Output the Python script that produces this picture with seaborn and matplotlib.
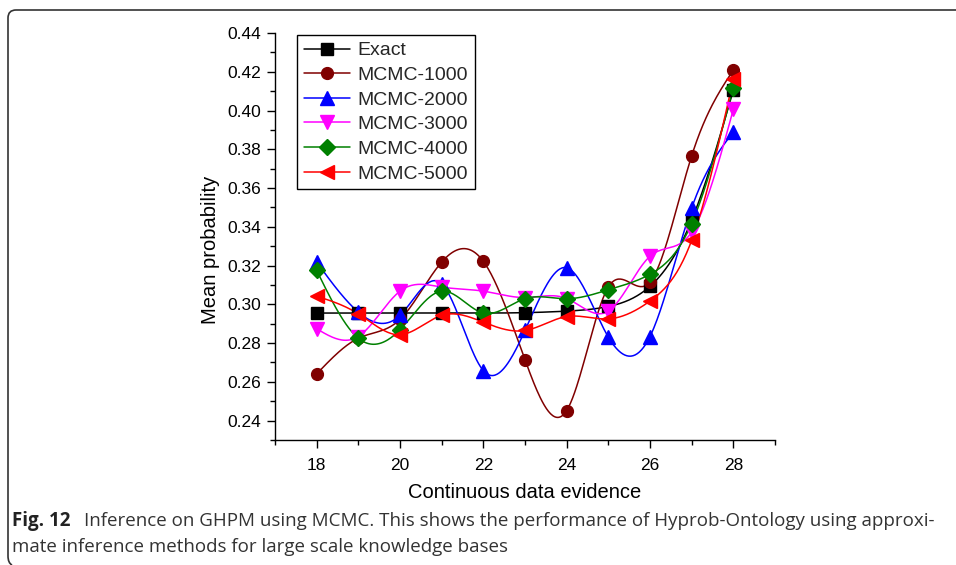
import numpy as np
import pandas as pd
import matplotlib
matplotlib.use("Agg")
import matplotlib.pyplot as plt
from matplotlib.lines import Line2D
from matplotlib.patches import PathPatch
from matplotlib.path import Path
from matplotlib.ticker import MultipleLocator
import seaborn as sns

# ---------------- data ----------------
evidence = [18, 19, 20, 21, 22, 23, 24, 25, 26, 27, 28]
exact     = [0.2955, 0.2955, 0.2955, 0.2955, 0.2955, 0.2957, 0.2965, 0.2989, 0.3093, 0.3434, 0.4105]
mcmc_1000 = [0.2641, 0.2825, 0.2922, 0.3218, 0.3222, 0.2714, 0.2452, 0.3089, 0.3115, 0.3766, 0.4209]
mcmc_2000 = [0.3218, 0.2960, 0.2943, 0.3106, 0.2658, 0.2865, 0.3189, 0.2831, 0.2834, 0.3497, 0.3890]
mcmc_3000 = [0.2874, 0.2834, 0.3068, 0.3089, 0.3068, 0.3035, 0.3030, 0.2965, 0.3248, 0.3373, 0.4006]
mcmc_4000 = [0.3175, 0.2825, 0.2869, 0.3068, 0.2955, 0.3029, 0.3029, 0.3075, 0.3155, 0.3417, 0.4117]
mcmc_5000 = [0.3042, 0.2951, 0.2843, 0.2943, 0.2908, 0.2865, 0.2937, 0.2925, 0.3017, 0.3330, 0.4161]

series_names = ["Exact", "MCMC-1000", "MCMC-2000", "MCMC-3000", "MCMC-4000", "MCMC-5000"]
series_values = [exact, mcmc_1000, mcmc_2000, mcmc_3000, mcmc_4000, mcmc_5000]
colors = ["#000000", "#800000", "#0000FF", "#FF00FF", "#008000", "#FF0000"]
markers = ["s", "o", "^", "v", "D", "<"]
msizes = [8, 8.5, 9.5, 9.5, 8, 9.5]


def natural_spline(x, y, xs):
    x = np.asarray(x, float); y = np.asarray(y, float)
    n = len(x)
    h = np.diff(x)
    A = np.zeros((n, n)); b = np.zeros(n)
    A[0, 0] = 1; A[-1, -1] = 1
    for i in range(1, n - 1):
        A[i, i - 1] = h[i - 1]
        A[i, i] = 2 * (h[i - 1] + h[i])
        A[i, i + 1] = h[i]
        b[i] = 6 * ((y[i + 1] - y[i]) / h[i] - (y[i] - y[i - 1]) / h[i - 1])
    M = np.linalg.solve(A, b)
    idx = np.clip(np.searchsorted(x, xs) - 1, 0, n - 2)
    x0 = x[idx]; x1 = x[idx + 1]; hh = x1 - x0
    t0 = x1 - xs; t1 = xs - x0
    return (M[idx] * t0**3 / (6 * hh) + M[idx + 1] * t1**3 / (6 * hh)
            + (y[idx] / hh - M[idx] * hh / 6) * t0
            + (y[idx + 1] / hh - M[idx + 1] * hh / 6) * t1)


sns.set_theme(style="white")
plt.rcParams["font.family"] = ["Liberation Sans", "DejaVu Sans"]

fig = plt.figure(figsize=(9.56, 5.65), dpi=100)
ax = fig.add_axes([275 / 956, 1 - 440 / 565, 500 / 956, 407 / 565])

xs = np.linspace(min(evidence), max(evidence), 400)
handles = []
for name, vals, c, m, ms in zip(series_names, series_values, colors, markers, msizes):
    smooth = pd.DataFrame({"x": xs, "y": natural_spline(evidence, vals, xs)})
    sns.lineplot(data=smooth, x="x", y="y", color=c, lw=1.1, ax=ax, zorder=2)
    pts = pd.DataFrame({"x": evidence, "y": vals})
    ax.plot(pts["x"], pts["y"], ls="none", marker=m, color=c, ms=ms,
            markeredgecolor=c, zorder=3)
    handles.append(Line2D([], [], color=c, lw=1.1, marker=m, ms=ms,
                          markeredgecolor=c, label=name))

ax.set_xlim(17, 29)
ax.set_ylim(0.23, 0.44)
ax.xaxis.set_major_locator(MultipleLocator(2))
ax.xaxis.set_minor_locator(MultipleLocator(1))
ax.yaxis.set_major_locator(MultipleLocator(0.02))
ax.yaxis.set_minor_locator(MultipleLocator(0.01))
ax.yaxis.set_major_formatter(matplotlib.ticker.FormatStrFormatter("%.2f"))
ax.set_xticks([18, 20, 22, 24, 26, 28])
ax.tick_params(which="major", direction="out", length=6, width=1, colors="black",
               labelsize=12.5, bottom=True, left=True, pad=4)
ax.tick_params(which="minor", direction="out", length=3.5, width=1, colors="black",
               bottom=True, left=True)
ax.tick_params(axis="x", which="major", pad=7)
for s in ["top", "right"]:
    ax.spines[s].set_visible(False)
for s in ["left", "bottom"]:
    ax.spines[s].set_color("black")
    ax.spines[s].set_linewidth(1.0)
ax.set_facecolor("white")
ax.set_xlabel("")
ax.set_ylabel("")
fig.text(210 / 956, 1 - 250 / 565, "Mean probability", fontsize=14.5,
         rotation=90, ha="center", va="center", color="black")
fig.text(525 / 956, 1 - 492 / 565, "Continuous data evidence", fontsize=14.5,
         ha="center", va="center", color="black")

leg = ax.legend(handles=handles, loc="upper left", bbox_to_anchor=(0.044, 0.995),
                borderaxespad=0, fontsize=14, frameon=True, fancybox=False,
                framealpha=1, edgecolor="black", handlelength=2.4, labelspacing=0.36,
                borderpad=0.35, handletextpad=0.35)
leg.get_frame().set_linewidth(1.0)

# caption
cap_font = ["Open Sans", "DejaVu Sans"]
fig.text(12 / 956, 1 - 521 / 565, "Fig. 12", fontsize=13.5, fontweight="bold",
         family=cap_font, color="#222222", va="center", ha="left")
fig.text(84 / 956, 1 - 521 / 565,
         "Inference on GHPM using MCMC. This shows the performance of Hyprob-Ontology using approxi-",
         fontsize=13.5, family=cap_font, color="#333333", va="center", ha="left")
fig.text(12 / 956, 1 - 547 / 565,
         "mate inference methods for large scale knowledge bases",
         fontsize=13.5, family=cap_font, color="#333333", va="center", ha="left")

# frame
W, H = 956, 565
verts = [(W, 10), (16, 10), (8, 10), (8, 18), (8, 556), (8, 563), (12, 565)]
codes = [Path.MOVETO, Path.LINETO, Path.CURVE3, Path.CURVE3, Path.LINETO, Path.CURVE3, Path.CURVE3]
verts = [(vx / W, 1 - vy / H) for vx, vy in verts]
fig.patches.append(PathPatch(Path(verts, codes), transform=fig.transFigure,
                             fill=False, edgecolor="#333333", lw=1.2))

fig.savefig("out.png", dpi=100, facecolor="white")
